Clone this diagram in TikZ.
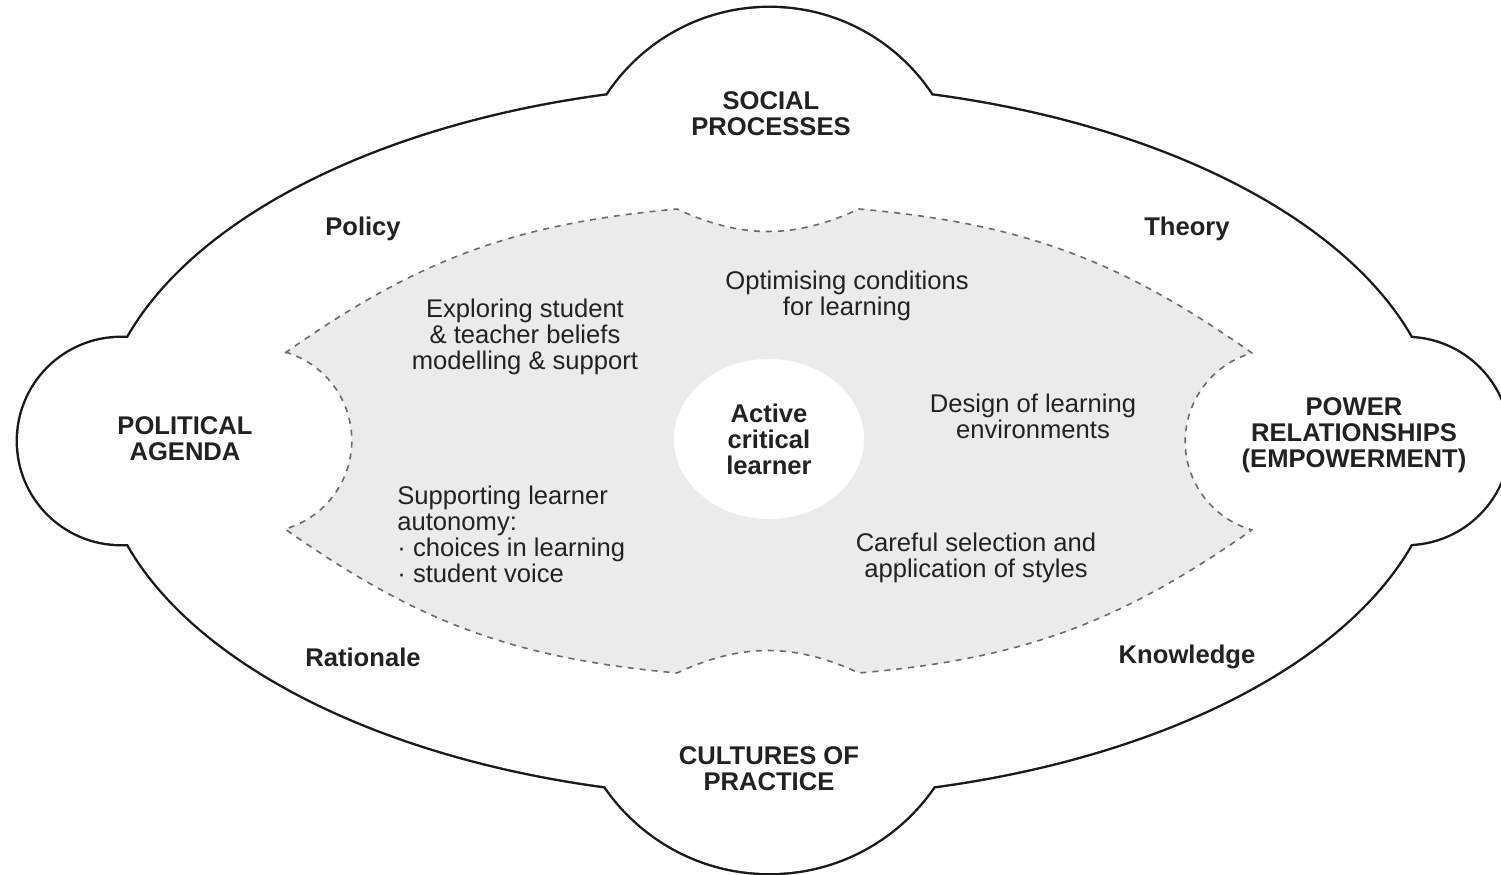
\documentclass[tikz,border=0pt]{standalone}
\usepackage{fontspec}
\setmainfont{Liberation Sans}
\usetikzlibrary{shapes.geometric}
\definecolor{framecolor}{HTML}{1A1A1A}
\definecolor{inkcolor}{HTML}{222222}
\definecolor{zonefill}{HTML}{EBEBEB}
\definecolor{zonedash}{HTML}{6B6B6B}

\begin{document}
\begin{tikzpicture}[x=0.5pt,y=0.5pt,line cap=round,line join=round,
    framestroke/.style={draw=framecolor,line width=2.4pt},
    framefill/.style={fill=white},
    zone/.style={fill=zonefill,draw=zonedash,line width=0.8pt,dash pattern=on 3pt off 3pt,line cap=butt},
    theme/.style={font=\bfseries\fontsize{12.8}{13}\selectfont,align=center,text=inkcolor,inner sep=0pt},
    note/.style={font=\fontsize{12.8}{13}\selectfont,align=center,text=inkcolor,inner sep=0pt}]
  \useasboundingbox (0,0) rectangle (1501,874);

  % outer frame = ellipse plus four bulges; wide stroke, then white fill on top
  \foreach \sty in {framestroke,framefill}
    \path[\sty] (769.5,433) ellipse[x radius=670,y radius=356]
                (769.5,672) circle[radius=194]
                (769.5,200) circle[radius=199]
                (121,433) circle[radius=103]
                (1406,433) circle[radius=103];

  % grey dashed zone with hollow sides
  \path[zone] (285,521) to[bend left=15] (677,665) to[bend right=25] (859,665)
      to[bend left=15] (1252,521) arc[start angle=105.9,end angle=254.1,radius=92]
      to[bend left=15] (859,201) to[bend right=25] (677,201)
      to[bend left=15] (285,345) arc[start angle=-74.1,end angle=74.1,radius=92] -- cycle;

  % centre
  \node[theme,ellipse,fill=white,minimum width=95pt,minimum height=80pt] (learner) at (769,435) {Active\\critical\\learner};

  % the four big themes
  \node[theme] (social) at (771,760) {SOCIAL\\PROCESSES};
  \node[theme] (political) at (185,435) {POLITICAL\\AGENDA};
  \node[theme] (power) at (1354,439) {POWER\\RELATIONSHIPS\\(EMPOWERMENT)};
  \node[theme] (cultures) at (769,105) {CULTURES OF\\PRACTICE};

  % corner words
  \node[theme] (policy) at (363,645) {Policy};
  \node[theme] (theory) at (1187,645) {Theory};
  \node[theme] (rationale) at (363,217) {Rationale};
  \node[theme] (knowledge) at (1187,217) {Knowledge};

  % inside the zone
  \node[note] (optimising) at (847,578) {Optimising conditions\\for learning};
  \node[note] (exploring) at (525,537) {Exploring student\\\& teacher beliefs\\modelling \& support};
  \node[note] (design) at (1033,458) {Design of learning\\environments};
  \node[note,align=left,anchor=west] (autonomy) at (397,340) {Supporting learner\\autonomy:\\· choices in learning\\· student voice};
  \node[note] (careful) at (976,316) {Careful selection and\\application of styles};
\end{tikzpicture}
\end{document}
